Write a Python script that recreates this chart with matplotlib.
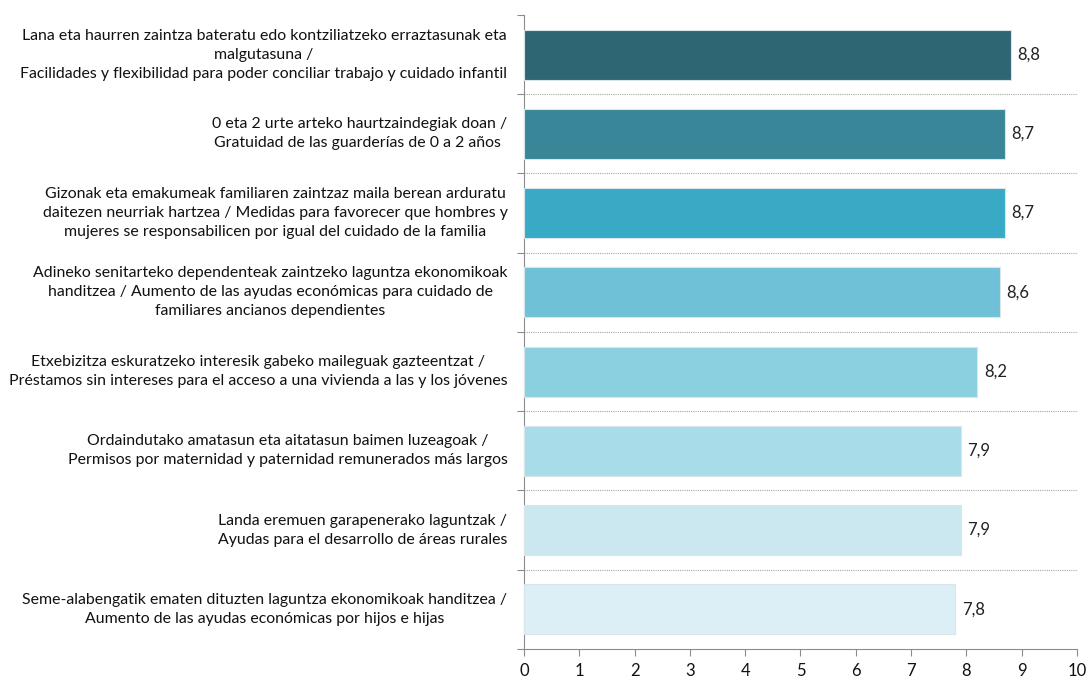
import matplotlib.pyplot as plt
import numpy as np

plt.rcParams["font.family"] = ["Lato", "DejaVu Sans"]

LABELS = [
    "Lana eta haurren zaintza bateratu edo kontziliatzeko erraztasunak eta\nmalgutasuna /\nFacilidades y flexibilidad para poder conciliar trabajo y cuidado infantil",
    "0 eta 2 urte arteko haurtzaindegiak doan /\nGratuidad de las guarderías de 0 a 2 años ",
    "Gizonak eta emakumeak familiaren zaintzaz maila berean arduratu\ndaitezen neurriak hartzea / Medidas para favorecer que hombres y\nmujeres se responsabilicen por igual del cuidado de la familia",
    "Adineko senitarteko dependenteak zaintzeko laguntza ekonomikoak\nhanditzea / Aumento de las ayudas económicas para cuidado de\nfamiliares ancianos dependientes",
    "Etxebizitza eskuratzeko interesik gabeko maileguak gazteentzat /\nPréstamos sin intereses para el acceso a una vivienda a las y los jóvenes",
    "Ordaindutako amatasun eta aitatasun baimen luzeagoak /\nPermisos por maternidad y paternidad remunerados más largos",
    "Landa eremuen garapenerako laguntzak /\nAyudas para el desarrollo de áreas rurales",
    "Seme-alabengatik ematen dituzten laguntza ekonomikoak handitzea /\nAumento de las ayudas económicas por hijos e hijas",
]
VALUES = [8.8, 8.7, 8.7, 8.6, 8.2, 7.9, 7.9, 7.8]
COLORS = ["#2E6674", "#3A8699", "#38AAC6", "#6EC1D7", "#8BD0E0", "#A8DCE9", "#CBE8F1", "#DDEFF6"]
X_TICKS = list(range(0, 11))

fig = plt.figure(figsize=(10.86, 6.8), dpi=100)
ax = fig.add_axes([0.4825, 0.0456, 0.5092, 0.9324])

y = np.arange(len(VALUES))
ax.barh(y, VALUES, height=0.63, color=COLORS, edgecolor="#d8e6ea", linewidth=0.8, zorder=3)

for yi, v in zip(y, VALUES):
    ax.text(v + 0.12, yi, f"{v:.1f}".replace(".", ","), va="center", ha="left",
            fontsize=12, color="#222222")

# dotted separators between categories
for b in y[:-1] + 0.5:
    ax.plot([0, 10], [b, b], color="#a6a6a6", linestyle=(0, (1, 1)), linewidth=0.8, zorder=1)

ax.set_xlim(0, 10)
ax.set_ylim(len(VALUES) - 0.5, -0.5)
ax.set_xticks(X_TICKS)
ax.set_xticklabels([str(t) for t in X_TICKS], fontsize=12)

# category boundaries as ticks, labels as separate texts
ax.set_yticks(np.arange(len(VALUES) + 1) - 0.5)
ax.set_yticklabels([])
for yi, lab in zip(y, LABELS):
    ax.text(-0.3, yi, lab, ha="right", va="center", multialignment="center",
            fontsize=11.4, color="#111111", linespacing=1.45,
            transform=ax.transData)

for side in ("top", "right"):
    ax.spines[side].set_visible(False)
for side in ("left", "bottom"):
    ax.spines[side].set_color("#8c8c8c")
ax.tick_params(axis="both", colors="#8c8c8c", length=5, labelcolor="#111111")
ax.tick_params(axis="x", pad=5)

fig.savefig("out.png", dpi=100)
